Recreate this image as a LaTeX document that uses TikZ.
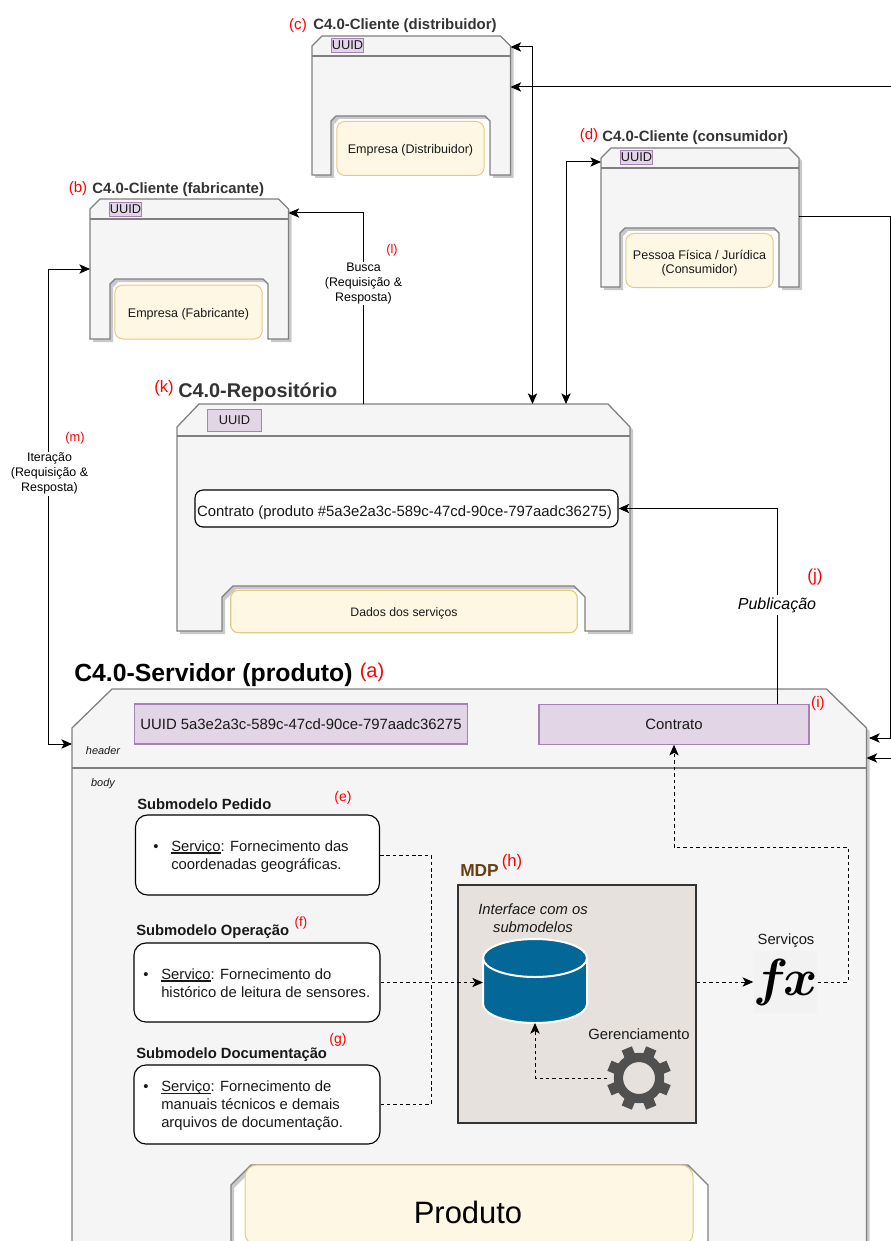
\documentclass[tikz,border=0pt]{standalone}
\usepackage{fontspec}
\usepackage{graphicx}
\setmainfont{Liberation Sans}
\usetikzlibrary{arrows.meta,calc}
\definecolor{framegray}{HTML}{7F7F7F}
\definecolor{framefill}{HTML}{F5F5F5}
\definecolor{shadowc}{HTML}{C9C9C9}
\definecolor{yel}{HTML}{FEF7E3}
\definecolor{yeld}{HTML}{E3CB85}
\definecolor{lil}{HTML}{E2D5E6}
\definecolor{lild}{HTML}{A582B3}
\definecolor{titlec}{HTML}{333333}
\definecolor{dbblue}{HTML}{036897}
\definecolor{mdpfill}{HTML}{E6E1DD}
\definecolor{mdpbrown}{HTML}{6B3F0F}
\definecolor{gearc}{HTML}{505050}
\newcommand\fs[2]{\fontsize{#1}{#2}\selectfont}
\newcommand\nudge[2]{\smash{\raisebox{#1}{#2}}}
\newcommand\ulserv[1]{\setbox0\hbox{#1}\rlap{\rule[-1.7pt]{\wd0}{0.8pt}}#1}
% outline: x1 y1 x2 y2 chamfx chamfy notchx1 notchx2 notchy ; \nch = notch chamfer
\newcommand\ushape[9]{%
  \def\uoutline{(#1,#4) -- (#1,#2+#6) -- (#1+#5,#2) -- (#3-#5,#2) -- (#3,#2+#6) -- (#3,#4) -- (#8,#4) -- (#8,#9+\nch) -- (#8-\nch,#9) -- (#7+\nch,#9) -- (#7,#9+\nch) -- (#7,#4) -- cycle}%
  \fill[shadowc,shift={(3,3)}] \uoutline;
  \filldraw[frameline,fill=framefill] \uoutline;
}
\newcommand\hit[5]{\node[inner sep=0pt,outer sep=0pt,minimum width={(#4-#2)*0.75pt},minimum height={(#5-#3)*0.75pt}] (#1) at ({(#2+#4)/2},{(#3+#5)/2}) {};}
\tikzset{
  x=0.75pt,y=-0.75pt,
  frameline/.style={draw=framegray,line width=0.95pt},
  yelbox/.style={draw=yeld,fill=yel,rounded corners=6pt,line width=0.75pt,inner sep=0pt,text=black!90},
  lilbox/.style={draw=lild,fill=lil,line width=0.9pt,inner sep=0pt,text=black!90},
  subbox/.style={draw=black,fill=white,rounded corners=9pt,line width=0.85pt,inner sep=0pt},
  redlab/.style={text=red,inner sep=0pt},
  cltitle/.style={text=titlec,inner sep=0pt,anchor=west,font=\bfseries\fs{11.2}{13}},
  subtitle/.style={text=black!90,inner sep=0pt,anchor=west,font=\bfseries\fs{11.1}{13}},
  bodytext/.style={inner sep=0pt,anchor=west,align=left,text=black!90,font=\fs{11.1}{13.6}},
  conn/.style={draw=black,line width=0.75pt},
  arr/.style={conn,-{Stealth[length=8pt,width=7pt,inset=2pt]}},
  arrb/.style={conn,{Stealth[length=8pt,width=7pt,inset=2pt]}-{Stealth[length=8pt,width=7pt,inset=2pt]}},
  dashc/.style={dash pattern=on 2.6pt off 2.2pt},
  connlab/.style={fill=white,inner sep=1pt,align=center,font=\fs{9.3}{11.2}},
}
\begin{document}
\begin{tikzpicture}
\useasboundingbox (0,0) rectangle (891,1241);
\clip (0,0) rectangle (891,1241);

% ---- clients
\def\nch{5}
\ushape{90}{199}{288.5}{339}{10}{10}{110}{268}{279}
\draw[frameline] (90,219) -- (288.5,219);
\hit{cliB}{90}{199}{288.5}{339}
\ushape{312}{36}{510.5}{175}{10}{10}{331}{490}{116}
\draw[frameline] (312,56) -- (510.5,56);
\hit{cliC}{312}{36}{510.5}{175}
\ushape{601}{148}{799}{287}{10}{10}{620}{779}{228}
\draw[frameline] (601,168) -- (799,168);
\hit{cliD}{601}{148}{799}{287}

\node[yelbox,minimum width=110.5pt,minimum height=40.5pt,font=\fs{9.4}{11.5}] (empB) at (188.5,312) {\nudge{-4.1pt}{Empresa (Fabricante)}};
\node[yelbox,minimum width=110.5pt,minimum height=40.5pt,font=\fs{9.4}{11.5}] (empC) at (410.5,148.5) {\nudge{-3.7pt}{Empresa (Distribuidor)}};
\node[yelbox,minimum width=110.5pt,minimum height=40.5pt,font=\fs{9.4}{10.6},align=center] (empD) at (699.5,260.5) {\rule{0pt}{11pt}Pessoa Física / Jurídica\\(Consumidor)};

\node[lilbox,minimum width=24.5pt,minimum height=10.5pt,font=\fs{9.6}{11}] (uuB) at (125.5,209.5) {UUID};
\node[lilbox,minimum width=24.5pt,minimum height=10.5pt,font=\fs{9.6}{11}] (uuC) at (347.5,45.5) {UUID};
\node[lilbox,minimum width=24.5pt,minimum height=10.5pt,font=\fs{9.6}{11}] (uuD) at (636.5,157.5) {UUID};

\node[cltitle] (tB) at (92,190) {C4.0-Cliente (fabricante)};
\node[cltitle] (tC) at (313,26) {C4.0-Cliente (distribuidor)};
\node[cltitle] (tD) at (602,138) {C4.0-Cliente (consumidor)};
\node[redlab,font=\fs{11.3}{13}] (lb) at (78,189) {(b)};
\node[redlab,font=\fs{11.3}{13}] (lc) at (298,26) {(c)};
\node[redlab,font=\fs{11.3}{13}] (ld) at (589,136) {(d)};

% ---- repository
\def\nch{11}
\ushape{177}{404}{630}{631}{22}{23}{222}{585}{586}
\draw[frameline] (177,436) -- (630,436);
\hit{repo}{177}{404}{630}{631}
\node[lilbox,minimum width=41pt,minimum height=17pt,font=\fs{9.6}{11}] (uuR) at (234.5,420.5) {UUID};
\node[draw=black,fill=white,rounded corners=6pt,line width=0.85pt,inner sep=0pt,minimum width=317.3pt,minimum height=27.7pt,font=\fs{11.17}{13},text=black!90] (contrRepo) at (406.5,508.5) {\hspace*{-3pt}\nudge{-6.2pt}{Contrato (produto \#5a3e2a3c-589c-47cd-90ce-797aadc36275)}};
\node[yelbox,line width=0.9pt,minimum width=260pt,minimum height=32pt,font=\fs{9.2}{11}] (dados) at (404,611.5) {\nudge{-3.4pt}{Dados dos serviços}};
\node[text=titlec,inner sep=0pt,anchor=west,font=\bfseries\fs{14.9}{17}] (tR) at (178,392) {C4.0-Repositório};
\node[redlab,font=\fs{12.5}{15}] (lk) at (164,388) {(k)};

% ---- server
\def\nch{20}
\ushape{72}{689}{866.5}{1260}{40}{39}{231}{708}{1165}
\draw[frameline] (72,768) -- (866.5,768);
\hit{server}{72}{689}{866.5}{1260}
\node[inner sep=0pt,anchor=west,font=\bfseries\fs{18.6}{22}] (tS) at (74,675) {C4.0-Servidor (produto)};
\node[redlab,font=\fs{15}{18}] (la) at (372,672) {(a)};
\node[lilbox,minimum width=249.5pt,minimum height=30pt,font=\fs{11.17}{13}] (uuS) at (301,724) {UUID 5a3e2a3c-589c-47cd-90ce-797aadc36275};
\node[lilbox,minimum width=202.5pt,minimum height=29.5pt,font=\fs{11.17}{13}] (contrato) at (674,724.5) {Contrato};
\node[redlab,font=\fs{11.5}{14}] (li) at (818,704) {(i)};
\node[inner sep=0pt,font=\itshape\fs{8.2}{10},text=black!90] (hd) at (103,751) {header};
\node[inner sep=0pt,font=\itshape\fs{8.2}{10},text=black!90] (bd) at (103,784) {body};

% submodels
\node[subtitle] (tPed) at (137,804) {Submodelo Pedido};
\node[subtitle] (tOp) at (136,932) {Submodelo Operação};
\node[subtitle] (tDoc) at (136,1055) {Submodelo Documentação};
\node[redlab,font=\fs{10.5}{12}] (le) at (343,798) {(e)};
\node[redlab,font=\fs{10}{12}] (lf) at (301,923) {(f)};
\node[redlab,font=\fs{10.5}{12}] (lg) at (338,1040) {(g)};
\node[subbox,minimum width=183pt,minimum height=60pt] (subPed) at (257.5,855) {};
\node[subbox,minimum width=184.5pt,minimum height=59.3pt] (subOp) at (257,982.5) {};
\node[subbox,minimum width=184.5pt,minimum height=59.3pt] (subDoc) at (257,1104.5) {};
\node[bodytext] (txPed) at (171,856.5) {\llap{•\hspace{9.5pt}}\ulserv{Serviço}: Fornecimento das\\coordenadas geográficas.};
\node[bodytext] (txOp) at (161,983) {\llap{•\hspace{9.5pt}}\ulserv{Serviço}: Fornecimento do\\histórico de leitura de sensores.};
\node[bodytext] (txDoc) at (161,1106) {\llap{•\hspace{9.5pt}}\ulserv{Serviço}: Fornecimento de\\manuais técnicos e demais\\arquivos de documentação.};

% MDP
\node[draw=black!80,fill=mdpfill,line width=0.9pt,inner sep=0pt,minimum width=178.5pt,minimum height=178.5pt] (mdp) at (577,1004) {};
\node[inner sep=0pt,anchor=west,text=mdpbrown,font=\bfseries\fs{13}{15}] (tM) at (460,871) {MDP};
\node[redlab,font=\fs{12.5}{15}] (lh) at (512,862) {(h)};
\node[inner sep=0pt,align=center,font=\itshape\fs{11.1}{13.5},text=black!90] (iface) at (533,918) {Interface com os\\submodelos};
\hit{db}{483}{939}{587}{1023}
\filldraw[fill=dbblue,draw=white,line width=1.5pt] (483,958) -- (483,1004) arc[start angle=180,end angle=0,x radius=52,y radius=19] -- (587,958) arc[start angle=0,end angle=-180,x radius=52,y radius=19] -- cycle;
\draw[white,line width=1.5pt] (483,958) arc[start angle=180,end angle=0,x radius=52,y radius=19];
\node[inner sep=0pt,font=\fs{11.1}{13},text=black!90] (ger) at (639,1034) {Gerenciamento};
\hit{gear}{607}{1046}{671}{1110}
\foreach \a in {22.5,67.5,...,337.5}{
  \fill[gearc,rotate around={\a:(639,1078)}] (633.5,1078) ++(0,-32) rectangle ++(11,14);
}
\draw[gearc,line width=6.9pt] (639,1078) circle[radius=20.6];
\node[inner sep=0pt,font=\fs{11.1}{13},text=black!90] (serv) at (786,940.5) {Serviços};
\node[fill=black!5,inner sep=0pt,minimum width=47pt,minimum height=46.5pt] (fx) at (785.5,982) {\scalebox{1.57}{\fontsize{24.88}{26}\usefont{OML}{cmm}{b}{it}fx}};

% Product
\node[yelbox,rounded corners=9pt,line width=0.75pt,minimum width=336pt,minimum height=60pt] (prodbox) at (469,1205) {};
\node[inner sep=0pt,font=\fs{23.2}{28},text=black] (prod) at (468,1212) {Produto};

% ---- connectors
\coordinate (cT) at (532.5,47);
\coordinate (dT) at (566,162);
\coordinate (bT) at (48,269);
\coordinate (rOut) at (890,738);
\coordinate (rA) at (891,87);
\coordinate (rB) at (891,758);
\coordinate (iterTurn) at (48,744);
\coordinate (buscaY) at (363,213);
\coordinate (clienteDOut) at (890,217);
\coordinate (serverIn) at (869,738);
\draw[arrb] (cliC.east |- cT) -| (repo.north -| cT);
\draw[arrb] (cliD.west |- dT) -| (repo.north -| dT);
\draw[arr] (rA) -- (cliC.east |- rA);
\draw[arr] (rB) -- (server.east |- rB);
\draw[arr] (cliD.east |- clienteDOut) -- (clienteDOut) -- (rOut) -- (serverIn);
\draw[arrb] (cliB.west |- bT) -| (iterTurn) -- (server.west |- iterTurn);
\draw[arr] (repo.north -| buscaY) |- (cliB.east |- buscaY);
\coordinate (pubX) at (777,509);
\draw[arr] (contrato.north -| pubX) |- (contrRepo.east);
\coordinate (merge) at (431,982.5);
\draw[conn,dashc] (subPed.east) -| (merge);
\draw[conn,dashc] (subDoc.east) -| (merge);
\draw[arr,dashc] (subOp.east) -- (db.west |- subOp.east);
\draw[arr,dashc] (gear.west) -| (db.south);
\draw[arr,dashc] (mdp.east |- fx.west) -- (fx.west);
\coordinate (fxturn) at (848,847);
\draw[arr,dashc] (fx.east) -| (fxturn) -| (contrato.south);

\node[connlab] (lbBusca) at (363.5,283.5) {Busca\\(Requisição \&\\Resposta)};
\node[connlab] (lbIter) at (49.5,473.5) {Iteração\\(Requisição \&\\Resposta)};
\node[connlab,inner sep=2pt,font=\itshape\fs{12}{14}] (lbPub) at (777,605) {Publicação};
\node[redlab,font=\fs{9.5}{11}] (ll) at (392,250) {(l)};
\node[redlab,font=\fs{9.6}{11}] (lm) at (75,438) {(m)};
\node[redlab,font=\fs{13}{15}] (lj) at (815,577) {(j)};
\end{tikzpicture}
\end{document}
